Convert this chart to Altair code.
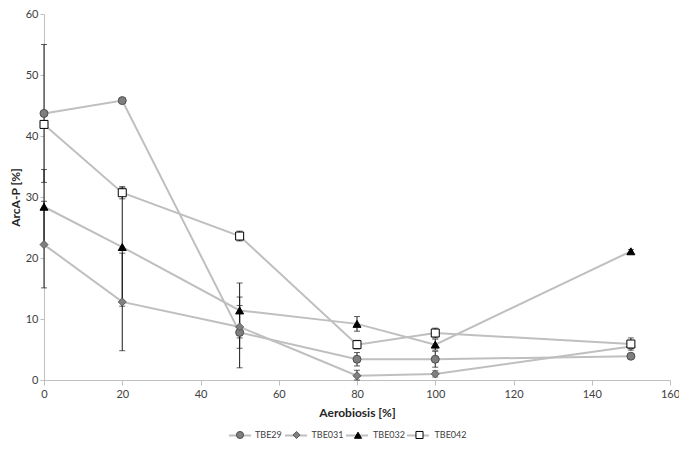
import altair as alt
import pandas as pd

aerobiosis = [0, 20, 50, 80, 100, 150]
series_names = ["TBE29", "TBE031", "TBE032", "TBE042"]

tbe29 = [43.7, 45.8, 7.8, 3.4, 3.4, 3.9]
tbe031 = [22.2, 12.8, 8.7, 0.7, 1.0, 5.5]
tbe032 = [28.4, 21.8, 11.4, 9.2, 5.8, 21.1]
tbe042 = [41.9, 30.7, 23.6, 5.8, 7.7, 5.9]

err29 = [11.3, 0.3, 5.8, 1.1, 1.3, 0.3]
err031 = [7.1, 8.0, 3.5, 0.9, 0.5, 0.3]
err032 = [6.1, 9.7, 4.5, 1.2, 0.9, 0.3]
err042 = [0.6, 1.0, 0.8, 0.7, 0.8, 1.0]

values = [tbe29, tbe031, tbe032, tbe042]
errors = [err29, err031, err032, err042]

rows = []
for name, vals, errs in zip(series_names, values, errors):
    for x, v, e in zip(aerobiosis, vals, errs):
        rows.append({"series": name, "lseries": name, "x": x, "y": v,
                     "lo": max(v - e, 0), "hi": v + e})
df = pd.DataFrame(rows)

FONT = "Lato"
AX = "#bfbfbf"
LX, LY = 184, 416
LFS = 9
L_OFF, L_PAD = 2, 0

xenc = alt.X("x:Q", scale=alt.Scale(domain=[0, 160], nice=False),
             axis=alt.Axis(values=list(range(0, 161, 20)), title="Aerobiosis [%]",
                           grid=False, domainColor=AX, tickColor=AX, tickSize=5,
                           labelFlush=False,
                           labelFont=FONT, labelFontSize=11, labelColor="#404040",
                           titleFont=FONT, titleFontSize=12, titleFontWeight="bold",
                           titleColor="#262626", titlePadding=8, labelPadding=3))
yscale = alt.Scale(domain=[0, 60], nice=False)
yenc = alt.Y("y:Q", scale=yscale,
             axis=alt.Axis(values=list(range(0, 61, 10)), title="ArcA-P [%]",
                           grid=False, domainColor=AX, tickColor=AX, tickSize=4,
                           labelFont=FONT, labelFontSize=11, labelColor="#404040",
                           titleFont=FONT, titleFontSize=12, titleFontWeight="bold",
                           titleColor="#262626", titlePadding=3, labelPadding=2))

base = alt.Chart(df)

lines = base.mark_line(strokeWidth=2).encode(
    x=xenc, y=yenc,
    color=alt.Color("lseries:N", sort=series_names,
                    scale=alt.Scale(range=["#bfbfbf"] * 4),
                    legend=alt.Legend(title=None, orient="none", direction="horizontal",
                                      legendX=LX, legendY=LY - 6.5, symbolType="stroke",
                                      symbolSize=484, symbolStrokeWidth=2,
                                      symbolStrokeColor="#bfbfbf",
                                      labelFont=FONT, labelFontSize=LFS,
                                      labelOpacity=0, labelOffset=L_OFF,
                                      columnPadding=L_PAD)))

rules = base.mark_rule(color="#1a1a1a", strokeWidth=1).encode(
    x="x:Q", y=alt.Y("lo:Q", scale=yscale), y2="hi:Q")

tick_lo = base.mark_tick(color="#1a1a1a", orient="horizontal", size=6, thickness=1).encode(
    x="x:Q", y=alt.Y("lo:Q", scale=yscale))
tick_hi = base.mark_tick(color="#1a1a1a", orient="horizontal", size=6, thickness=1).encode(
    x="x:Q", y=alt.Y("hi:Q", scale=yscale))

points = base.mark_point(filled=False, size=64, opacity=1, strokeWidth=1).encode(
    x="x:Q", y="y:Q",
    shape=alt.Shape("series:N",
                    scale=alt.Scale(domain=series_names,
                                    range=["circle", "diamond", "triangle-up", "square"]),
                    legend=alt.Legend(title=None, orient="none", direction="horizontal",
                                      legendX=LX + 7.5, legendY=LY, labelFont=FONT,
                                      labelFontSize=LFS, labelColor="#404040",
                                      symbolSize=50, labelOffset=L_OFF + 8.5,
                                      columnPadding=L_PAD + 7.5,
                                      symbolStrokeWidth=1)),
    fill=alt.Fill("series:N",
                  scale=alt.Scale(domain=series_names,
                                  range=["#7f7f7f", "#808080", "#000000", "#ffffff"]),
                  legend=None),
    stroke=alt.Stroke("series:N",
                      scale=alt.Scale(domain=series_names,
                                      range=["#4d4d4d", "#595959", "#000000", "#000000"]),
                      legend=None),
)

chart = alt.layer(lines, rules, tick_lo, tick_hi, points).properties(
    width=626, height=366,
    autosize=alt.AutoSizeParams(type="none"),
    padding={"left": 36, "right": 9, "top": 6, "bottom": 61},
).configure_view(stroke=None)

chart.save("out.html", embed_options={"renderer": "svg", "actions": False})
